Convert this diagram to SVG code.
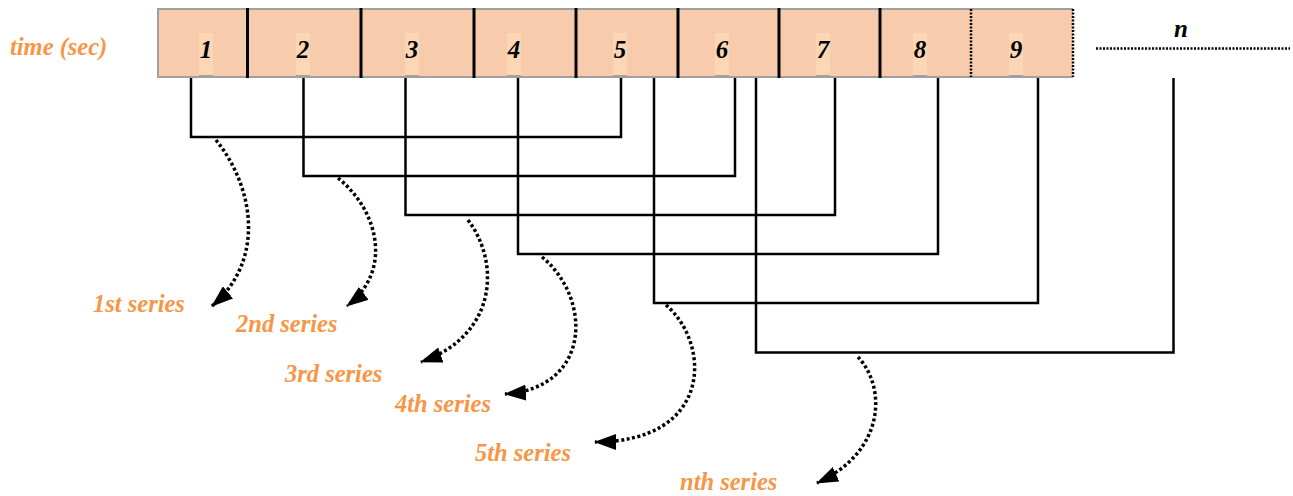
<svg xmlns="http://www.w3.org/2000/svg" width="1293" height="496" viewBox="0 0 1293 496">
  <style>
    .lbl { font-family: "Liberation Serif", "Times New Roman", serif; font-weight: bold; font-style: italic; font-size: 24.5px; fill: #F79646; }
    .num { font-family: "Liberation Serif", "Times New Roman", serif; font-weight: bold; font-style: italic; font-size: 25px; fill: #000; text-anchor: middle; }
    .tag { fill: #FDD6B6; }
    .tick { stroke: #A0A0A0; stroke-width: 3; }
    .div { stroke: #000; stroke-width: 3; }
    .dot { stroke: #000; stroke-width: 2.5; stroke-dasharray: 2 1.5; fill: none; }
    .conn { stroke: #000; stroke-width: 2.5; fill: none; }
    .flow { stroke: #000; stroke-width: 3.5; stroke-dasharray: 3 2.5; fill: none; marker-end: url(#head); }
  </style>
  <defs>
    <marker id="head" viewBox="0 0 22 16" refX="21" refY="8" markerWidth="22" markerHeight="16" markerUnits="userSpaceOnUse" orient="auto">
      <path d="M0,0 L22,8 L0,16 z" fill="#000"/>
    </marker>
  </defs>

  <rect width="1293" height="496" fill="#fff"/>

  <!-- time axis label -->
  <g id="axis-label">
    <text class="lbl" x="10" y="55">time (sec)</text>
  </g>

  <!-- timeline bar -->
  <g id="timeline">
    <rect x="158" y="9" width="915" height="68" fill="#F8CBAD"/>
    <path d="M1073,9 H158 V77 H1073" fill="none" stroke="#A0A0A0" stroke-width="2"/>
    <line class="div" x1="247.5" y1="8" x2="247.5" y2="78"/>
    <line class="div" x1="361" y1="8" x2="361" y2="78"/>
    <line class="div" x1="474" y1="8" x2="474" y2="78"/>
    <line class="div" x1="576" y1="8" x2="576" y2="78"/>
    <line class="div" x1="678" y1="8" x2="678" y2="78"/>
    <line class="div" x1="779" y1="8" x2="779" y2="78"/>
    <line class="div" x1="880" y1="8" x2="880" y2="78"/>
    <line class="dot" x1="971" y1="9" x2="971" y2="77"/>
    <line class="dot" x1="1073" y1="9" x2="1073" y2="77"/>
  </g>

  <!-- second markers -->
  <g id="sec-1"><rect class="tag" x="199" y="33" width="14" height="44"/><line class="tick" x1="199" y1="76.5" x2="213" y2="76.5"/><text class="num" x="206" y="58">1</text></g>
  <g id="sec-2"><rect class="tag" x="296" y="33" width="14" height="44"/><line class="tick" x1="296" y1="76.5" x2="310" y2="76.5"/><text class="num" x="303" y="58">2</text></g>
  <g id="sec-3"><rect class="tag" x="405" y="33" width="14" height="44"/><line class="tick" x1="405" y1="76.5" x2="419" y2="76.5"/><text class="num" x="412" y="58">3</text></g>
  <g id="sec-4"><rect class="tag" x="507" y="33" width="14" height="44"/><line class="tick" x1="507" y1="76.5" x2="521" y2="76.5"/><text class="num" x="514" y="58">4</text></g>
  <g id="sec-5"><rect class="tag" x="613" y="33" width="14" height="44"/><line class="tick" x1="613" y1="76.5" x2="627" y2="76.5"/><text class="num" x="620" y="58">5</text></g>
  <g id="sec-6"><rect class="tag" x="715" y="33" width="14" height="44"/><line class="tick" x1="715" y1="76.5" x2="729" y2="76.5"/><text class="num" x="722" y="58">6</text></g>
  <g id="sec-7"><rect class="tag" x="816" y="33" width="14" height="44"/><line class="tick" x1="816" y1="76.5" x2="830" y2="76.5"/><text class="num" x="823" y="58">7</text></g>
  <g id="sec-8"><rect class="tag" x="913" y="33" width="14" height="44"/><line class="tick" x1="913" y1="76.5" x2="927" y2="76.5"/><text class="num" x="920" y="58">8</text></g>
  <g id="sec-9"><rect class="tag" x="1009" y="33" width="14" height="44"/><line class="tick" x1="1009" y1="76.5" x2="1023" y2="76.5"/><text class="num" x="1016" y="58">9</text></g>

  <!-- open end of the axis -->
  <g id="sec-n">
    <text class="num" x="1181" y="37">n</text>
    <line class="dot" x1="1096" y1="48.5" x2="1290" y2="48.5"/>
  </g>

  <!-- window brackets and series arrows -->
  <g id="connectors">
    <path class="conn" d="M191,78 V137 H621 V78"/>
    <path class="conn" d="M303.5,78 V176 H735 V78"/>
    <path class="conn" d="M405.5,78 V215 H835 V78"/>
    <path class="conn" d="M518,78 V254 H938 V78"/>
    <path class="conn" d="M654,78 V303 H1038 V78"/>
    <path class="conn" d="M756,78 V352.5 H1173.5 V78"/>

    <path class="flow" d="M216,140 C256,190 264,262 212,306"/>
    <path class="flow" d="M338,178 C380,212 392,272 347,306"/>
    <path class="flow" d="M468,220 C500,262 498,335 421,362"/>
    <path class="flow" d="M542,257 C592,298 592,388 505,394"/>
    <path class="flow" d="M666,305 C712,345 712,442 595,442"/>
    <path class="flow" d="M858,357 C887,388 885,452 817,483"/>
  </g>

  <!-- series labels -->
  <g id="series-labels">
    <text class="lbl" x="93" y="312">1st series</text>
    <text class="lbl" x="236" y="332">2nd series</text>
    <text class="lbl" x="285" y="382">3rd series</text>
    <text class="lbl" x="395" y="412">4th series</text>
    <text class="lbl" x="475" y="461">5th series</text>
    <text class="lbl" x="680" y="490">nth series</text>
  </g>
</svg>
